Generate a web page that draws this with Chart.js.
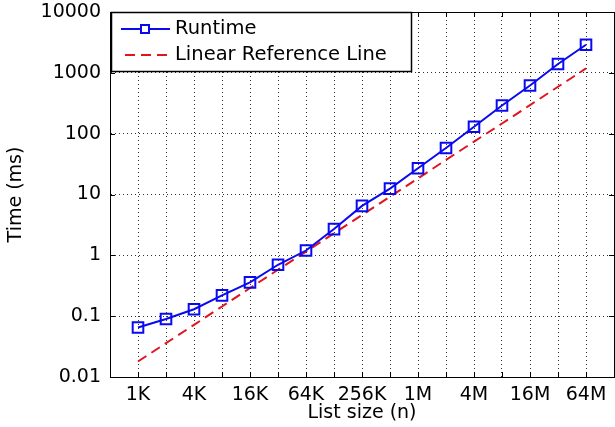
<!DOCTYPE html>
<html>
<head>
<meta charset="utf-8">
<script src="https://cdn.jsdelivr.net/npm/chart.js@4/dist/chart.umd.min.js"></script>
<style>
  html, body { margin: 0; padding: 0; background: #fff; }
  #wrap { width: 615px; height: 427px; }
</style>
</head>
<body>
<div id="wrap"><canvas id="c" width="615" height="427"></canvas></div>
<script>
// ---- data ----
const listSizes = [1024, 2048, 4096, 8192, 16384, 32768, 65536, 131072, 262144, 524288,
                   1048576, 2097152, 4194304, 8388608, 16777216, 33554432, 67108864];
const sizeLabels = ['1K','2K','4K','8K','16K','32K','64K','128K','256K','512K',
                    '1M','2M','4M','8M','16M','32M','64M'];
const runtimeMs = [0.065, 0.09, 0.13, 0.22, 0.36, 0.7, 1.2, 2.7, 6.5, 12.5,
                   27, 58, 130, 290, 620, 1400, 2900];
const linearRefMs = [0.018, 0.036, 0.072, 0.144, 0.29, 0.58, 1.15, 2.3, 4.6, 9.2,
                     18.4, 37, 74, 147, 295, 590, 1180];
const xTickLabels = ['1K','4K','16K','64K','256K','1M','4M','16M','64M'];
const xAxisMin = 512, xAxisMax = 134217728;
const yTickValues = [0.01, 0.1, 1, 10, 100, 1000, 10000];
const yTickLabels = ['0.01','0.1','1','10','100','1000','10000'];
const seriesNames = ['Runtime', 'Linear Reference Line'];

const FONT = '"DejaVu Sans", sans-serif';

const boxPlugin = {
  id: 'boxTicks',
  afterDatasetsDraw(chart) {
    const {ctx, chartArea: a, scales} = chart;
    ctx.save();
    ctx.strokeStyle = '#000';
    ctx.lineWidth = 1;
    ctx.beginPath();
    // inward tick marks
    scales.x.ticks.forEach(t => {
      const px = Math.round(scales.x.getPixelForValue(t.value)) + 0.5;
      ctx.moveTo(px, a.bottom); ctx.lineTo(px, a.bottom - 5);
      ctx.moveTo(px, a.top); ctx.lineTo(px, a.top + 5);
    });
    scales.y.ticks.forEach(t => {
      const py = Math.round(scales.y.getPixelForValue(t.value)) + 0.5;
      ctx.moveTo(a.left, py); ctx.lineTo(a.left + 5, py);
      ctx.moveTo(a.right, py); ctx.lineTo(a.right - 5, py);
    });
    ctx.stroke();
    ctx.strokeRect(Math.round(a.left) + 0.5, Math.round(a.top) + 0.5,
                   Math.round(a.right - a.left), Math.round(a.bottom - a.top));
    ctx.restore();
  },
  afterDraw(chart) {
    const {ctx, chartArea: a} = chart;
    const ds = chart.data.datasets;
    const x0 = Math.round(a.left) + 1, y0 = Math.round(a.top), w = 300, h = 59;
    ctx.save();
    ctx.fillStyle = '#fff';
    ctx.fillRect(x0, y0, w, h);
    ctx.strokeStyle = '#000';
    ctx.lineWidth = 1.5;
    ctx.strokeRect(x0 + 0.5, y0 + 0.5, w, h);
    const rows = [y0 + 17, y0 + 43];
    // row 1: runtime
    ctx.strokeStyle = ds[0].borderColor;
    ctx.lineWidth = 2;
    ctx.setLineDash([]);
    ctx.beginPath(); ctx.moveTo(x0 + 10, rows[0]); ctx.lineTo(x0 + 59, rows[0]); ctx.stroke();
    ctx.fillStyle = '#fff';
    ctx.fillRect(x0 + 30, rows[0] - 4, 8, 8);
    ctx.strokeRect(x0 + 30, rows[0] - 4, 8, 8);
    // row 2: reference
    ctx.strokeStyle = ds[1].borderColor;
    ctx.setLineDash(ds[1].borderDash);
    ctx.beginPath(); ctx.moveTo(x0 + 14, rows[1]); ctx.lineTo(x0 + 59, rows[1]); ctx.stroke();
    ctx.setLineDash([]);
    ctx.fillStyle = '#000';
    ctx.font = '19.5px ' + FONT;
    ctx.textBaseline = 'middle';
    ctx.textAlign = 'left';
    ctx.fillText(ds[0].label, x0 + 64, rows[0]);
    ctx.fillText(ds[1].label, x0 + 64, rows[1]);
    ctx.restore();
  }
};

new Chart(document.getElementById('c'), {
  type: 'line',
  data: {
    datasets: [
      {
        label: seriesNames[0],
        data: listSizes.map((n, i) => ({x: n, y: runtimeMs[i]})),
        borderColor: '#0a0aee',
        backgroundColor: 'rgba(0,0,0,0)',
        borderWidth: 2,
        pointStyle: 'rect',
        pointRadius: 7.5,
        pointBorderWidth: 2,
        pointBackgroundColor: 'rgba(0,0,0,0)',
        pointBorderColor: '#0a0aee',
        tension: 0
      },
      {
        label: seriesNames[1],
        data: listSizes.map((n, i) => ({x: n, y: linearRefMs[i]})),
        borderColor: '#e0141e',
        borderWidth: 2,
        borderDash: [10, 6],
        pointRadius: 0,
        tension: 0
      }
    ]
  },
  plugins: [boxPlugin],
  options: {
    responsive: false,
    devicePixelRatio: 1,
    animation: false,
    layout: { autoPadding: false, padding: { top: 12, right: 1, left: 0, bottom: 0 } },
    plugins: { legend: { display: false }, tooltip: { enabled: false } },
    scales: {
      x: {
        type: 'logarithmic',
        min: xAxisMin,
        max: xAxisMax,
        afterBuildTicks(scale) {
          scale.ticks = [xAxisMin, ...listSizes, xAxisMax].map(v => ({value: v}));
        },
        afterFit(scale) {
          scale.height = 50;
          scale.paddingLeft = 0;
          scale.paddingRight = 0;
        },
        ticks: {
          autoSkip: false,
          maxRotation: 0,
          padding: 7,
          color: '#000',
          font: { family: FONT, size: 19 },
          callback(value) {
            const i = listSizes.indexOf(value);
            if (i < 0) return '';
            return xTickLabels.includes(sizeLabels[i]) ? sizeLabels[i] : '';
          }
        },
        grid: { color: '#333', lineWidth: 1, drawTicks: false },
        border: { display: true, color: '#000', width: 1, dash: [1, 3] },
        title: {
          display: true,
          text: 'List size (n)',
          color: '#000',
          font: { family: FONT, size: 19 },
          padding: { top: 0, bottom: 3 }
        }
      },
      y: {
        type: 'logarithmic',
        min: 0.01,
        max: 10000,
        afterBuildTicks(scale) {
          scale.ticks = yTickValues.map(v => ({value: v}));
        },
        afterFit(scale) {
          scale.width = 110;
          scale.paddingTop = 0;
          scale.paddingBottom = 0;
        },
        ticks: {
          padding: 9,
          color: '#000',
          font: { family: FONT, size: 19 },
          callback(value) {
            const i = yTickValues.indexOf(value);
            return i < 0 ? '' : yTickLabels[i];
          }
        },
        grid: { color: '#333', lineWidth: 1, drawTicks: false },
        border: { display: true, color: '#000', width: 1, dash: [1, 3] },
        title: {
          display: true,
          text: 'Time (ms)',
          color: '#000',
          font: { family: FONT, size: 19 },
          padding: { top: 5, bottom: 0 }
        }
      }
    }
  }
});
</script>
</body>
</html>
